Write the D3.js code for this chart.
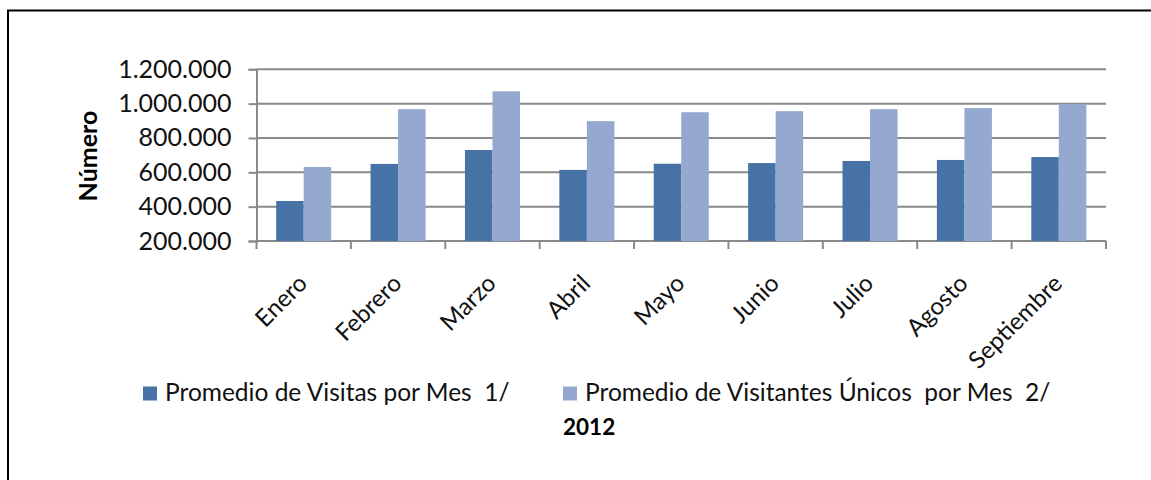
<!DOCTYPE html>
<html><head><meta charset="utf-8">
<script src="https://cdn.jsdelivr.net/npm/d3@7"></script>
<style>html,body{margin:0;padding:0;background:#fff;overflow:hidden}svg{display:block}</style>
</head><body>
<script>
const months = ["Enero","Febrero","Marzo","Abril","Mayo","Junio","Julio","Agosto","Septiembre"];
const visitas = [433000, 649000, 730000, 614000, 650000, 654000, 666000, 672000, 689000];
const visitantes = [631000, 968000, 1072000, 898000, 950000, 956000, 968000, 974000, 998000];
const seriesNames = ["Promedio de Visitas por Mes  1/", "Promedio de Visitantes Únicos  por Mes  2/"];
const seriesColors = ["#4672A6", "#94A8D0"];
const yTicks = [200000, 400000, 600000, 800000, 1000000, 1200000];
const yTitle = "Número";
const chartTitle = "2012";

const W = 1151, H = 480;
const svg = d3.select("body").append("svg").attr("width", W).attr("height", H);
const font = "Lato, 'Open Sans', sans-serif";

// frame
svg.append("path").attr("d", `M8,480 V10.5 H1151`).attr("fill","none").attr("stroke","#000").attr("stroke-width",2);

const x0 = 256.5, x1 = 1106, yTop = 69.3, yBot = 241;
const x = d3.scaleBand().domain(months).range([x0, x1]).paddingInner(0.417).paddingOuter(0.2085);
const xs = d3.scaleBand().domain([0,1]).range([0, x.bandwidth()]);
const y = d3.scaleLinear().domain([200000, 1200000]).range([yBot, yTop]);
const fmt = v => d3.format(",")(v).replace(/,/g, ".");
const grid = "#8a8a8a";

// gridlines
svg.append("g").selectAll("line").data(yTicks).join("line")
  .attr("x1", x0).attr("x2", x1).attr("y1", d => y(d)).attr("y2", d => y(d))
  .attr("stroke", grid).attr("stroke-width", 2);

// y axis
const yAx = svg.append("g").attr("transform", `translate(${x0},0)`)
  .call(d3.axisLeft(y).tickValues(yTicks).tickFormat(fmt).tickSize(8).tickPadding(17));
yAx.select(".domain").attr("stroke", grid).attr("stroke-width", 2);
yAx.selectAll(".tick line").attr("stroke", grid).attr("stroke-width", 2);
yAx.selectAll("text").attr("font-family", font).attr("font-size", 25).attr("fill", "#111");

// x axis
const ticksX = months.map((m,i) => x0 + i * x.step()).concat([x1]);
const xAx = svg.append("g");
xAx.append("line").attr("x1", x0).attr("x2", x1).attr("y1", yBot).attr("y2", yBot).attr("stroke", grid).attr("stroke-width", 2);
xAx.selectAll("line.t").data(ticksX).join("line").attr("class","t")
  .attr("x1", d => d).attr("x2", d => d).attr("y1", yBot).attr("y2", yBot + 8)
  .attr("stroke", grid).attr("stroke-width", 2);
xAx.selectAll("text").data(months).join("text")
  .attr("transform", d => `translate(${x(d) + x.bandwidth()/2 - 1},${yBot + 38}) rotate(-45)`)
  .attr("text-anchor", "end").attr("dy", "0.35em")
  .attr("font-family", font).attr("font-size", 24).attr("fill", "#111").text(d => d);

// bars
const data = [visitas, visitantes];
data.forEach((vals, s) => {
  svg.append("g").selectAll("rect").data(months).join("rect")
    .attr("x", (d) => x(d) + xs(s)).attr("width", xs.bandwidth())
    .attr("y", (d,i) => y(vals[i])).attr("height", (d,i) => yBot - y(vals[i]))
    .attr("fill", seriesColors[s]);
});

// y title
svg.append("text").attr("transform", `translate(88,156) rotate(-90)`)
  .attr("text-anchor","middle").attr("dy","0.35em").attr("font-family", font).attr("font-weight","bold")
  .attr("font-size", 25).attr("fill","#000").text(yTitle);

// legend
const legX = [143, 563];
seriesNames.forEach((n, i) => {
  svg.append("rect").attr("x", legX[i]).attr("y", 386.5).attr("width", 14).attr("height", 14).attr("fill", seriesColors[i]);
  svg.append("text").attr("x", legX[i] + 22).attr("y", 400.5)
    .attr("font-family", font).attr("font-size", 24.5).attr("fill","#111")
    .style("white-space","pre").attr("xml:space","preserve").text(n);
});
svg.append("text").attr("x", 563).attr("y", 435)
  .attr("font-family", font).attr("font-weight","bold").attr("font-size", 22.5).attr("fill","#000").text(chartTitle);
</script>
</body></html>
